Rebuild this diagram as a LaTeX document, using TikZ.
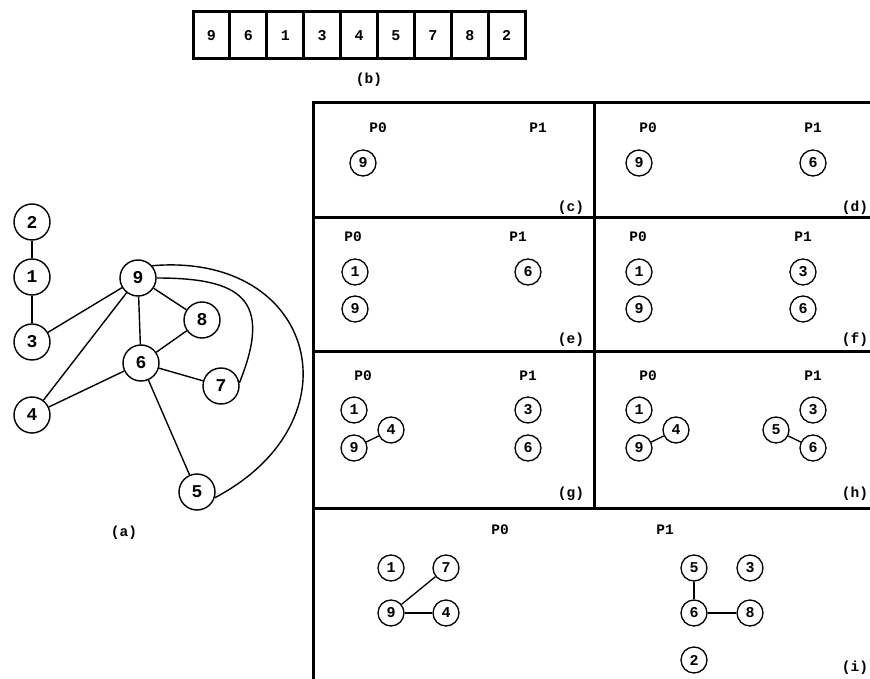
\documentclass[tikz,border=0pt]{standalone}
\usepackage{fontspec}
\setmonofont{Liberation Mono}
\begin{document}
\begin{tikzpicture}[x=1pt,y=-1pt,
  every node/.style={font=\ttfamily\bfseries},
  bigv/.style={circle,draw,line width=1.4pt,minimum size=36pt,inner sep=0pt,font=\ttfamily\bfseries\fontsize{18}{18}\selectfont},
  smallv/.style={circle,draw,line width=1.3pt,minimum size=26pt,inner sep=0pt,font=\ttfamily\bfseries\fontsize{15}{15}\selectfont},
  lab/.style={font=\ttfamily\bfseries\fontsize{14.5}{14.5}\selectfont},
  cell/.style={draw,line width=3pt,minimum width=36.9pt,minimum height=47pt,inner sep=0pt,font=\ttfamily\bfseries\fontsize{15}{15}\selectfont},
  edge/.style={line width=1.4pt},
  sedge/.style={line width=1.3pt},
  frame/.style={line width=3pt}]
\useasboundingbox (0,0) rectangle (870,679);

% ---- (b) ordering array ----
\foreach \v [count=\i] in {9,6,1,3,4,5,7,8,2}
  \node[cell] (c\i) at ({193+36.9*(\i-0.5)},35.5) {\v};
\node[lab] (lb) at (369,80) {(b)};

% ---- (a) the graph ----
\node[bigv] (a2) at (32,222) {2};
\node[bigv] (a1) at (32,277) {1};
\node[bigv] (a3) at (32,342) {3};
\node[bigv] (a9) at (138,278) {9};
\node[bigv] (a8) at (202,320) {8};
\node[bigv] (a6) at (141,363) {6};
\node[bigv] (a7) at (221,386) {7};
\node[bigv] (a4) at (32,415) {4};
\node[bigv] (a5) at (197,492) {5};
\node[lab] (la) at (124,533) {(a)};
\draw[edge] (a2) -- (a1);
\draw[edge] (a1) -- (a3);
\draw[edge] (a3) -- (a9);
\draw[edge] (a4) -- (a9);
\draw[edge] (a9) -- (a6);
\draw[edge] (a9) -- (a8);
\draw[edge] (a8) -- (a6);
\draw[edge] (a6) -- (a7);
\draw[edge] (a6) -- (a4);
\draw[edge] (a6) -- (a5);
\draw[edge] (a9.east) .. controls +(84,0) and +(34,-84) .. (a7.10);
\draw[edge] (a9.41) .. controls +(164,-14) and +(146,-77) .. (a5.-18);

% ---- panel frame ----
\coordinate (ftl) at (313,103);
\coordinate (ftr) at (870,103);
\coordinate (fbl) at (313,679);
\coordinate (mtop) at (594,103);
\coordinate (mbot) at (594,508);
\coordinate (h1l) at (313,218); \coordinate (h1r) at (870,218);
\coordinate (h2l) at (313,351); \coordinate (h2r) at (870,351);
\coordinate (h3l) at (313,508); \coordinate (h3r) at (870,508);
\draw[frame] (ftr) -- (ftl) -- (fbl);
\draw[frame] (mtop) -- (mbot);
\draw[frame] (h1l) -- (h1r);
\draw[frame] (h2l) -- (h2r);
\draw[frame] (h3l) -- (h3r);

% ---- (c) ----
\node[lab] (cP0) at (378,128) {P0};
\node[lab] (cP1) at (538,128) {P1};
\node[smallv] (c9) at (363,163) {9};
\node[lab] (lc) at (571,208) {(c)};

% ---- (d) ----
\node[lab] (dP0) at (648,128) {P0};
\node[lab] (dP1) at (813,128) {P1};
\node[smallv] (d9) at (639,163) {9};
\node[smallv] (d6) at (813,163) {6};
\node[lab] (ld) at (855,208) {(d)};

% ---- (e) ----
\node[lab] (eP0) at (353,237) {P0};
\node[lab] (eP1) at (518,237) {P1};
\node[smallv] (e1) at (355,272) {1};
\node[smallv] (e9) at (355,309) {9};
\node[smallv] (e6) at (528,272) {6};
\node[lab] (le) at (571,340) {(e)};

% ---- (f) ----
\node[lab] (fP0) at (638,237) {P0};
\node[lab] (fP1) at (803,237) {P1};
\node[smallv] (f1) at (639,272) {1};
\node[smallv] (f9) at (639,309) {9};
\node[smallv] (f3) at (803,272) {3};
\node[smallv] (f6) at (803,309) {6};
\node[lab] (lf) at (855,340) {(f)};

% ---- (g) ----
\node[lab] (gP0) at (363,376) {P0};
\node[lab] (gP1) at (528,376) {P1};
\node[smallv] (g1) at (354,410) {1};
\node[smallv] (g4) at (391,430) {4};
\node[smallv] (g9) at (354,448) {9};
\node[smallv] (g3) at (528,410) {3};
\node[smallv] (g6) at (528,448) {6};
\draw[sedge] (g9) -- (g4);
\node[lab] (lg) at (571,494) {(g)};

% ---- (h) ----
\node[lab] (hP0) at (648,376) {P0};
\node[lab] (hP1) at (813,376) {P1};
\node[smallv] (h1) at (639,410) {1};
\node[smallv] (h4) at (676,430) {4};
\node[smallv] (h9) at (639,448) {9};
\node[smallv] (h3) at (813,410) {3};
\node[smallv] (h5) at (776,430) {5};
\node[smallv] (h6) at (813,448) {6};
\draw[sedge] (h9) -- (h4);
\draw[sedge] (h5) -- (h6);
\node[lab] (lh) at (855,494) {(h)};

% ---- (i) ----
\node[lab] (iP0) at (500,530) {P0};
\node[lab] (iP1) at (665,530) {P1};
\node[smallv] (i1) at (391,568) {1};
\node[smallv] (i7) at (446,568) {7};
\node[smallv] (i9) at (391,613) {9};
\node[smallv] (i4) at (446,613) {4};
\node[smallv] (i5) at (694,568) {5};
\node[smallv] (i3) at (750,568) {3};
\node[smallv] (i6) at (694,613) {6};
\node[smallv] (i8) at (750,613) {8};
\node[smallv] (i2) at (694,660) {2};
\draw[sedge] (i9) -- (i7);
\draw[sedge] (i9) -- (i4);
\draw[sedge] (i5) -- (i6);
\draw[sedge] (i6) -- (i8);
\node[lab] (li) at (855,668) {(i)};
\end{tikzpicture}
\end{document}
